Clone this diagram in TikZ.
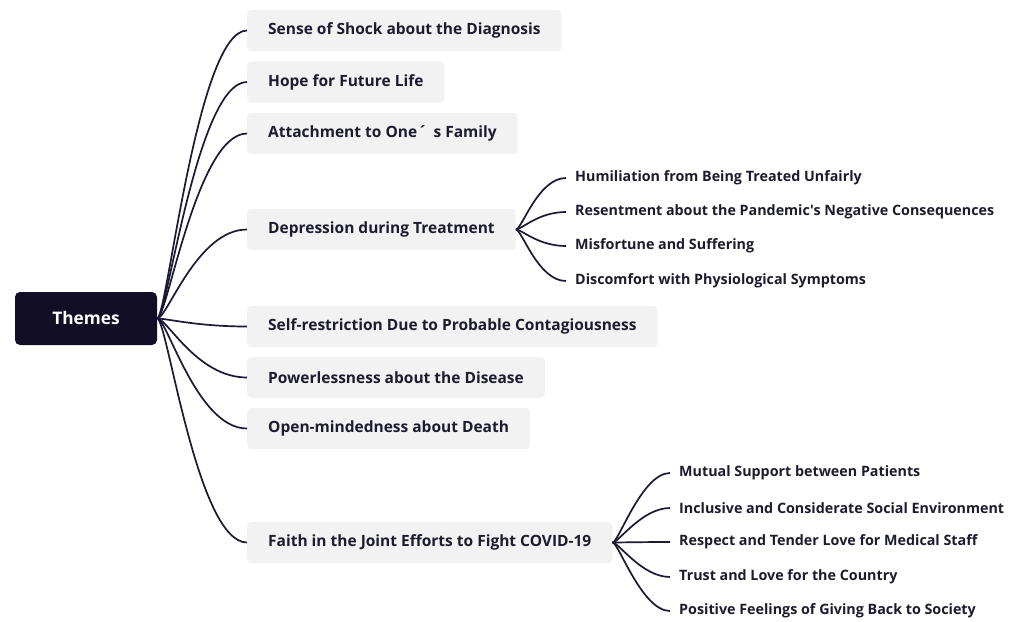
\documentclass[tikz,border=0pt]{standalone}
\usepackage{fontspec}
\setmainfont{Open Sans}[Ligatures=TeXOff]
\definecolor{rootc}{HTML}{110E26}
\definecolor{linec}{HTML}{1B1A35}
\definecolor{txt}{HTML}{1C1C2E}
\definecolor{boxgray}{HTML}{F2F2F2}
\begin{document}
\begin{tikzpicture}[x=1pt,y=-1pt,
  conn/.style={draw=linec, line width=1.7pt},
  theme/.style={fill=boxgray, rounded corners=4pt, anchor=west, inner xsep=21pt, inner ysep=0pt, minimum height=41pt, font=\fontsize{15.5}{18}\selectfont\bfseries, text=txt},
  subt/.style={anchor=west, inner xsep=9pt, inner ysep=0pt, font=\fontsize{14.3}{17}\selectfont\bfseries, text=txt},
  rootbox/.style={fill=rootc, rounded corners=5pt, minimum width=142pt, minimum height=53pt, inner sep=0pt, text=white, font=\fontsize{17.3}{20}\selectfont\bfseries}]
\path[use as bounding box, fill=white] (0,0) rectangle (1016,621);

\node[rootbox] (root) at (86,318.5) {Themes};

\node[theme] (t1) at (247,30.5) {Sense of Shock about the Diagnosis};
\node[theme] (t2) at (247,82) {Hope for Future Life};
\node[theme] (t3) at (247,133.5) {Attachment to One\kern1pt\textasciiacute\kern6pt s Family};
\node[theme] (t4) at (247,229.5) {Depression during Treatment};
\node[theme] (t5) at (247,326.5) {Self-restriction Due to Probable Contagiousness};
\node[theme] (t6) at (247,377.5) {Powerlessness about the Disease};
\node[theme] (t7) at (247,428.5) {Open-mindedness about Death};
\node[theme] (t8) at (247,542.5) {Faith in the Joint Efforts to Fight COVID-19};

\node[subt] (d1) at (566,178) {Humiliation from Being Treated Unfairly};
\node[subt] (d2) at (566,212) {Resentment about the Pandemic's Negative Consequences};
\node[subt] (d3) at (566,246) {Misfortune and Suffering};
\node[subt] (d4) at (566,281) {Discomfort with Physiological Symptoms};

\node[subt] (f1) at (670,473) {Mutual Support between Patients};
\node[subt] (f2) at (670,508) {Inclusive and Considerate Social Environment};
\node[subt] (f3) at (670,542) {Respect and Tender Love for Medical Staff};
\node[subt] (f4) at (670,577) {Trust and Love for the Country};
\node[subt] (f5) at (670,611) {Positive Feelings of Giving Back to Society};

\foreach \t in {t1,t2,t3,t4,t5,t6,t7,t8}
  \draw[conn] (root.east) .. controls +(10,0) and +(-50,0) .. (\t.west);
\foreach \s in {d1,d2,d3,d4}
  \draw[conn] (t4.east) .. controls +(6,0) and +(-28,0) .. (\s.west);
\foreach \s in {f1,f2,f3,f4,f5}
  \draw[conn] (t8.east) .. controls +(6,0) and +(-28,0) .. (\s.west);
\end{tikzpicture}
\end{document}
